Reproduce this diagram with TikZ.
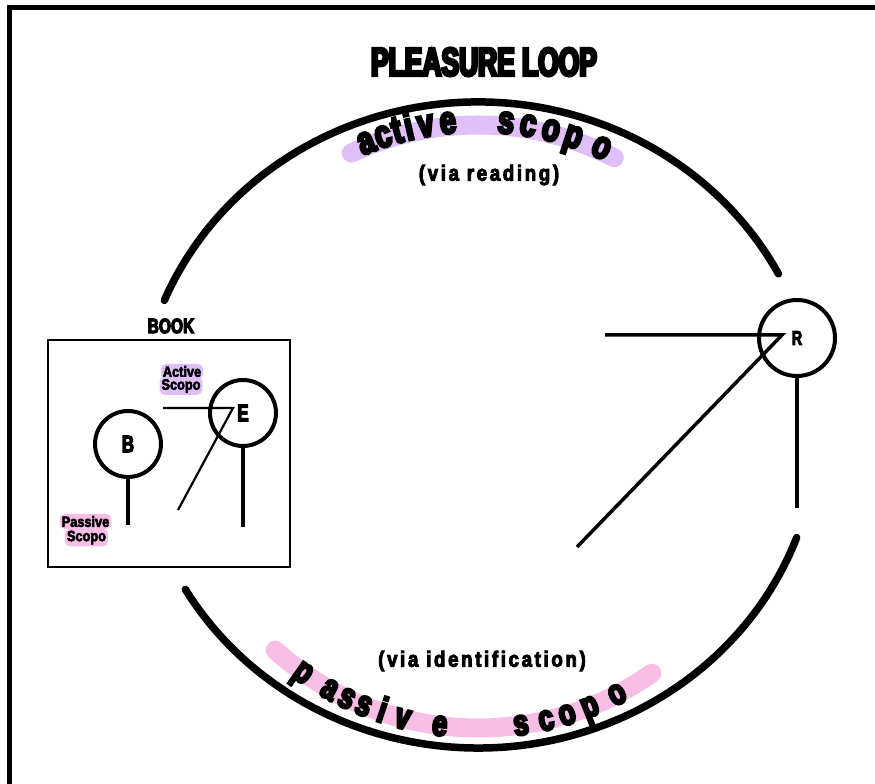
\documentclass[tikz,border=0pt]{standalone}
\usepackage{fontspec}
\setmainfont{Liberation Sans}
\newfontfamily\titlefont[FakeStretch=0.66,BoldFeatures={FakeBold=7}]{Liberation Sans}
\newfontfamily\arcfont[FakeStretch=0.74,BoldFeatures={FakeBold=7}]{Liberation Sans}
\newfontfamily\bookfont[FakeStretch=0.74,BoldFeatures={FakeBold=5}]{Liberation Sans}
\newfontfamily\viafont[FakeStretch=0.85,LetterSpace=12,BoldFeatures={FakeBold=4}]{Liberation Sans}
\newfontfamily\tagfont[FakeStretch=0.85,BoldFeatures={FakeBold=3.5}]{Liberation Sans}
\newfontfamily\initfont[FakeStretch=0.7,BoldFeatures={FakeBold=5}]{Liberation Sans}
\usetikzlibrary{calc}

\definecolor{lav}{RGB}{224,190,247}
\definecolor{pinkhl}{RGB}{249,190,229}

\begin{document}
\begin{tikzpicture}[x=1pt,y=1pt,
  loop/.style={line width=7.5pt, line cap=round},
  band/.style={line width=19pt, line cap=round},
  person/.style={circle, draw, line width=4pt, inner sep=0pt, minimum size=66pt,
    font=\initfont\bfseries\fontsize{24pt}{24pt}\selectfont},
  stem/.style={line width=4.5pt},
  gaze/.style={line width=2.2pt},
  rgaze/.style={line width=3.5pt},
  topletter/.style={inner sep=0pt, anchor=base, font=\arcfont\bfseries\fontsize{39pt}{39pt}\selectfont},
  botletter/.style={inner sep=0pt, anchor=base, font=\arcfont\bfseries\fontsize{36pt}{36pt}\selectfont},
  via/.style={inner sep=0pt, font=\viafont\bfseries\fontsize{22pt}{22pt}\selectfont},
  tag/.style={inner sep=2pt, rounded corners=5pt, font=\tagfont\bfseries\fontsize{15pt}{15pt}\selectfont}]

\useasboundingbox (0,0) rectangle (875,784);
\fill[white] (0,0) rectangle (875,784);

% outer frame
\draw[line width=5pt] (9,-10) -- (9,776) -- (885,776);

\coordinate (C) at (478,359);

% highlight bands behind the arc lettering
\draw[band, lav] (C) ++(115:300pt) arc[start angle=115, end angle=63, radius=300pt];
\draw[band, pinkhl] (C) ++(228:303pt) arc[start angle=228, end angle=305, radius=303pt];

% the loop
\draw[loop] (C) ++(157.3:340pt and 323pt)
  arc[start angle=157.3, end angle=27.9, x radius=340pt, y radius=323pt];
\draw[loop] (C) ++(210.6:340pt and 323pt)
  arc[start angle=210.6, end angle=339.6, x radius=340pt, y radius=323pt];

% title
\node[inner sep=0pt, font=\titlefont\bfseries\fontsize{40pt}{40pt}\selectfont] (title) at (484,722) {PLEASURE LOOP};

% lettering along the top of the loop
\foreach \ch/\a [count=\i] in {a/111.6, c/108.2, t/105.4, i/103.1, v/99.9, e/95.7,
                               s/84.7, c/80.5, o/76.1, p/71.7, o/66.0}
  \node[topletter, rotate=\a-90] (act\i) at ([shift={(\a:293pt)}]C) {\ch};
\node[via] (reading) at (489,609) {(via reading)};

% lettering along the bottom of the loop
\foreach \ch/\a [count=\i] in {p/234.8, a/240.7, s/244.35, s/247.85, i/251.5, v/255.6, e/262.75,
                               s/278.17, c/283.0, o/287.1, p/291.65, o/297.3}
  \node[botletter, rotate=\a+90] (pas\i) at ([shift={(\a:313pt)}]C) {\ch};
\node[via] (ident) at (482,123) {(via identification)};

% the book
\node[draw, line width=2.5pt, minimum width=242pt, minimum height=227pt, inner sep=0pt] (book) at (169,330.5) {};
\node[inner sep=0pt, font=\bookfont\bfseries\fontsize{21pt}{21pt}\selectfont] (booklabel) at (171,458) {BOOK};

\node[person] (B) at (128,340) {B};
\node[person] (E) at (243,371) {E};
\coordinate (bs) at (128,259);
\coordinate (es) at (243,257);
\draw[stem] (B.south) -- (bs);
\draw[stem] (E.south) -- (es);

\coordinate (eh) at (163,376);
\coordinate (ev) at (233,376);
\coordinate (ed) at (178,274);
\draw[gaze, line join=miter] (eh) -- (ev) -- (ed);

\node[tag, fill=lav] (act) at (182,412.5) {Active};
\node[tag, fill=lav] (actb) at (181,398) {Scopo};
\node[tag, fill=pinkhl] (pas) at (85.5,262.5) {Passive};
\node[tag, fill=pinkhl] (pasb) at (86.5,246.5) {Scopo};

% the reader
\node[person, minimum size=76pt, font=\initfont\bfseries\fontsize{20pt}{20pt}\selectfont] (R) at (797,446) {R};
\coordinate (rs) at (797,276);
\draw[stem] (R.south) -- (rs);
\coordinate (rh) at (605,449);
\coordinate (rv) at (782,449);
\coordinate (rd) at (577,237);
\draw[rgaze, line join=miter] (rh) -- (rv) -- (rd);

\end{tikzpicture}
\end{document}
